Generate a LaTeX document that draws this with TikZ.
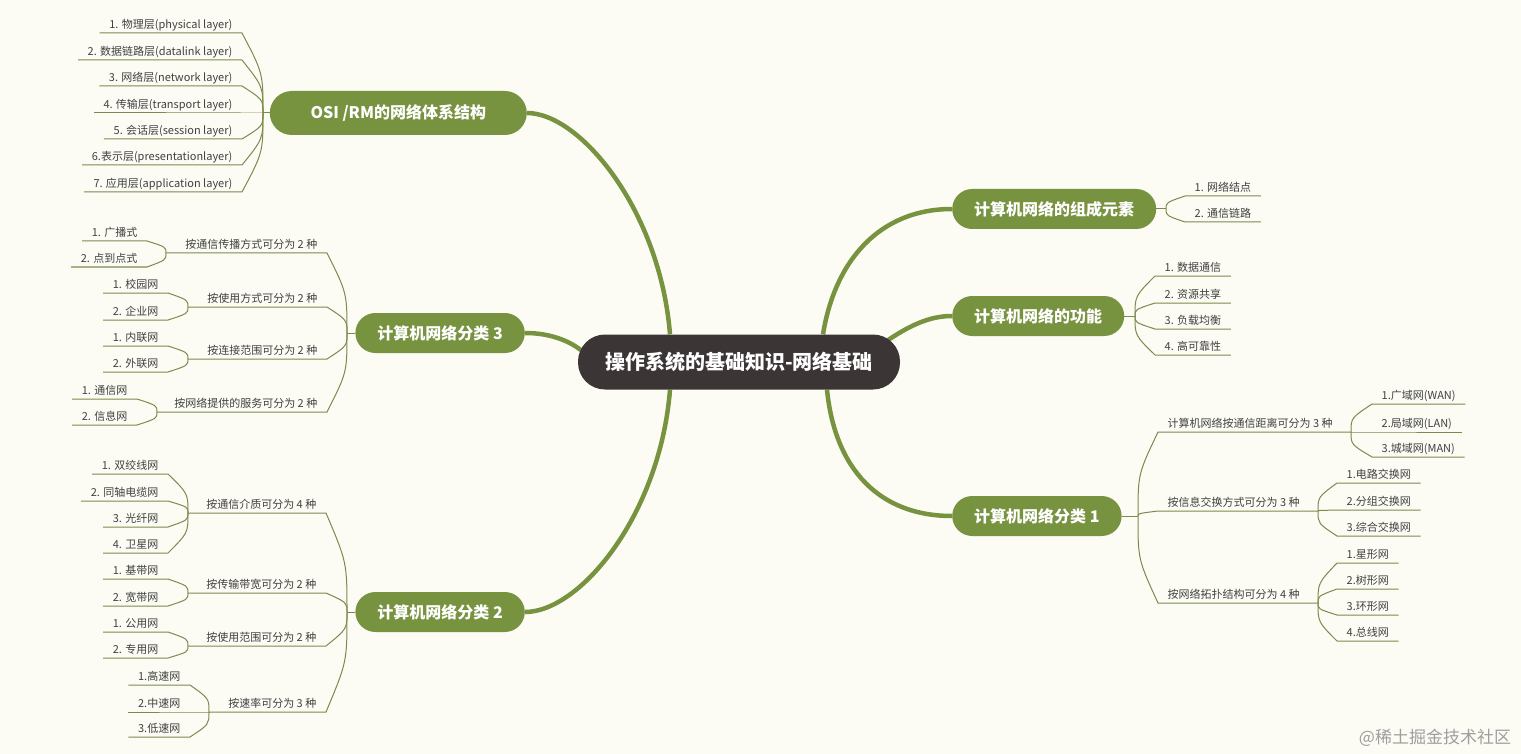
\documentclass[tikz,border=0pt]{standalone}
\usepackage{fontspec}
\setmainfont{Noto Sans CJK SC}
\usetikzlibrary{calc,backgrounds}

% map colours
\definecolor{mapbg}{RGB}{252,252,245}
\definecolor{mapgreen}{RGB}{120,147,64}
\definecolor{maproot}{RGB}{60,53,53}
\definecolor{mapline}{RGB}{125,138,75}
\definecolor{maptext}{RGB}{64,64,64}

\tikzset{
  rootbox/.style={fill=maproot, text=white, font=\fontsize{20}{24}\selectfont\bfseries,
    rounded corners=27pt, minimum width=322pt, minimum height=55pt},
  topic/.style={fill=mapgreen, text=white, font=\fontsize{16}{19}\selectfont\bfseries,
    rounded corners=20pt, minimum height=40pt, inner xsep=22pt},
  leaf/.style={text=maptext, font=\fontsize{11}{13}\selectfont, inner xsep=9.5pt,
    inner ysep=2pt, text height=9pt, text depth=2.5pt},
  trunk/.style={draw=mapgreen, line width=4.5pt},
  twig/.style={draw=mapline, line width=1pt},
  twigcurve/.style={to path={.. controls ($(\tikztostart)!0.5!(\tikztostart |- \tikztotarget)$) .. (\tikztotarget)}},
}

\begin{document}
\begin{tikzpicture}[x=1pt, y=-1pt]
    \useasboundingbox (0,0) rectangle (1521,754);

    % Root
    \node[rootbox] (root) at (739,362) {操作系统的基础知识-网络基础};

    % OSI /RM branch
    \node[topic, minimum height=44pt, minimum width=257pt, rounded corners=22pt, anchor=east] (osi) at (527,113) {OSI /RM的网络体系结构};
    \coordinate (josi) at (263,113);
    \draw[twig] (osi.west) -- (josi);
    \foreach \y/\txt [count=\k] in {33/{1. 物理层(physical layer)}, 60/{2. 数据链路层(datalink layer)},
        86/{3. 网络层(network layer)}, 113/{4. 传输层(transport layer)}, 139/{5. 会话层(session layer)},
        165/{6.表示层(presentationlayer)}, 192/{7. 应用层(application layer)}} {
        \node[leaf, anchor=south east] (osi\k) at (242,\y) {\txt};
        \draw[twig] (josi) to[twigcurve] (osi\k.south east) -- (osi\k.south west);
    }

    % Classification 3
    \node[topic, anchor=east] (cls3) at (525,333) {计算机网络分类 3};
    \coordinate (j3) at (347,333);
    \draw[twig] (cls3.west) -- (j3);
    \foreach \n/\y/\jx/\txt in {a/253/166/{按通信传播方式可分为 2 种}, b/307/188/{按使用方式可分为 2 种},
        c/359/188/{按连接范围可分为 2 种}, d/412/157/{按网络提供的服务可分为 2 种}} {
        \node[leaf, anchor=south east] (cls3\n) at (327,\y) {\txt};
        \coordinate (j3\n) at (\jx,\y);
        \draw[twig] (j3) to[twigcurve] (cls3\n.south east) -- (j3\n);
    }
    \foreach \p/\x/\y/\txt [count=\k] in {a/147/241/{1. 广播式}, a/147/267/{2. 点到点式},
        b/168/293/{1. 校园网}, b/168/320/{2. 企业网}, c/168/346/{1. 内联网}, c/168/372/{2. 外联网},
        d/137/399/{1. 通信网}, d/137/425/{2. 信息网}} {
        \node[leaf, anchor=south east] (leaf3\k) at (\x,\y) {\txt};
        \draw[twig] (j3\p) to[twigcurve] (leaf3\k.south east) -- (leaf3\k.south west);
    }

    % Classification 2
    \node[topic, anchor=east] (cls2) at (525,612) {计算机网络分类 2};
    \coordinate (j2) at (347,612);
    \draw[twig] (cls2.west) -- (j2);
    \foreach \n/\y/\jx/\txt in {a/513/188/{按通信介质可分为 4 种}, b/593/188/{按传输带宽可分为 2 种},
        c/646/188/{按使用范围可分为 2 种}, d/712/209/{按速率可分为 3 种}} {
        \node[leaf, anchor=south east] (cls2\n) at (326,\y) {\txt};
        \coordinate (j2\n) at (\jx,\y);
        \draw[twig] (j2) to[twigcurve] (cls2\n.south east) -- (j2\n);
    }
    \foreach \p/\x/\y/\txt [count=\k] in {a/168/474/{1. 双绞线网}, a/168/501/{2. 同轴电缆网},
        a/168/527/{3. 光纤网}, a/168/553/{4. 卫星网}, b/168/579/{1. 基带网}, b/168/606/{2. 宽带网},
        c/168/632/{1. 公用网}, c/168/658/{2. 专用网}, d/190/685/{1.高速网}, d/190/712/{2.中速网},
        d/190/737/{3.低速网}} {
        \node[leaf, anchor=south east] (leaf2\k) at (\x,\y) {\txt};
        \draw[twig] (j2\p) to[twigcurve] (leaf2\k.south east) -- (leaf2\k.south west);
    }

    % Elements
    \node[topic, anchor=west] (elem) at (952,209) {计算机网络的组成元素};
    \coordinate (jelem) at (1166,209);
    \draw[twig] (elem.east) -- (jelem);
    \foreach \y/\txt [count=\k] in {196/{1. 网络结点}, 222/{2. 通信链路}} {
        \node[leaf, anchor=south west] (elem\k) at (1185,\y) {\txt};
        \draw[twig] (jelem) to[twigcurve] (elem\k.south west) -- (elem\k.south east);
    }

    % Functions
    \node[topic, anchor=west] (func) at (952,316) {计算机网络的功能};
    \coordinate (jfunc) at (1135,316);
    \draw[twig] (func.east) -- (jfunc);
    \foreach \y/\txt [count=\k] in {276/{1. 数据通信}, 303/{2. 资源共享}, 329/{3. 负载均衡}, 355/{4. 高可靠性}} {
        \node[leaf, anchor=south west] (func\k) at (1155,\y) {\txt};
        \draw[twig] (jfunc) to[twigcurve] (func\k.south west) -- (func\k.south east);
    }

    % Classification 1
    \node[topic, anchor=west] (cls1) at (952,516) {计算机网络分类 1};
    \coordinate (j1) at (1138,516);
    \draw[twig] (cls1.east) -- (j1);
    \foreach \n/\y/\jx/\txt in {a/432/1351/{计算机网络按通信距离可分为 3 种}, b/511/1318/{按信息交换方式可分为 3 种},
        c/603/1318/{按网络拓扑结构可分为 4 种}} {
        \node[leaf, anchor=south west] (cls1\n) at (1158,\y) {\txt};
        \coordinate (j1\n) at (\jx,\y);
        \draw[twig] (j1) to[twigcurve] (cls1\n.south west) -- (j1\n);
    }
    \foreach \p/\x/\y/\txt [count=\k] in {a/1372/404/{1.广域网(WAN)}, a/1372/432/{2.局域网(LAN)},
        a/1372/457/{3.城域网(MAN)}, b/1337/483/{1.电路交换网}, b/1337/510/{2.分组交换网},
        b/1337/536/{3.综合交换网}, c/1337/563/{1.星形网}, c/1337/589/{2.树形网},
        c/1337/615/{3.环形网}, c/1337/641/{4.总线网}} {
        \node[leaf, anchor=south west] (leaf1\k) at (\x,\y) {\txt};
        \draw[twig] (j1\p) to[twigcurve] (leaf1\k.south west) -- (leaf1\k.south east);
    }

    % Watermark
    \node[text=black!38, font=\fontsize{17}{20}\selectfont] (mark) at (1435,738) {@稀土掘金技术社区};

    % Background and trunks
    \begin{scope}[on background layer]
        \fill[mapbg] (0,0) rectangle (1521,754);
        \draw[trunk] ([xshift=-69pt]root.north) .. controls (660,210) and (580,113) .. (osi.east);
        \draw[trunk] ([xshift=3pt,yshift=12pt]root.west) .. controls (565,338) and (545,333) .. (cls3.east);
        \draw[trunk] ([xshift=-69pt]root.south) .. controls (660,515) and (580,612) .. (cls2.east);
        \draw[trunk] ([xshift=84pt]root.north) .. controls (835,260) and (880,209) .. (elem.west);
        \draw[trunk] ([xshift=-15pt,yshift=20pt]root.east) .. controls (910,325) and (930,316) .. (func.west);
        \draw[trunk] ([xshift=88pt]root.south) .. controls (835,470) and (880,516) .. (cls1.west);
    \end{scope}
\end{tikzpicture}
\end{document}
